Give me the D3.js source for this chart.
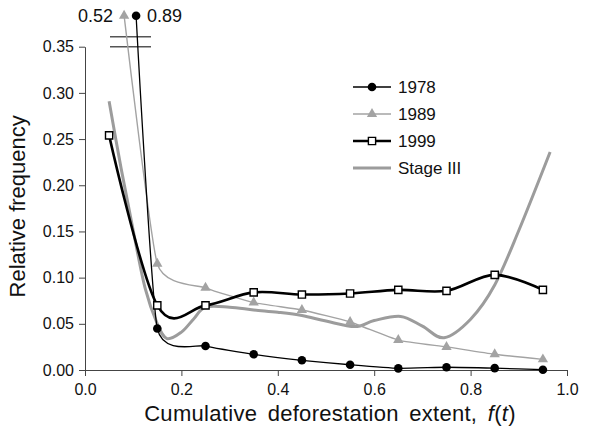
<!DOCTYPE html>
<html>
<head>
<meta charset="utf-8">
<script src="https://cdn.jsdelivr.net/npm/d3@7"></script>
<style>
  html, body { margin: 0; padding: 0; background: #fff; }
  svg text { font-family: "Liberation Sans", Arial, Helvetica, sans-serif; fill: #111; }
</style>
</head>
<body>
<svg id="chart" width="592" height="427"></svg>
<script>
// Bin centres of cumulative deforestation extent f(t)
const binCenters = [0.05, 0.15, 0.25, 0.35, 0.45, 0.55, 0.65, 0.75, 0.85, 0.95];

// Relative frequency per bin for each survey year
const freq1978 = [0.89, 0.045, 0.026, 0.017, 0.0105, 0.0057, 0.0018, 0.003, 0.002, 0.0003];
const freq1989 = [0.52, 0.115, 0.089, 0.073, 0.065, 0.052, 0.0324, 0.025, 0.017, 0.0115];
const freq1999 = [0.254, 0.070, 0.070, 0.084, 0.0817, 0.0828, 0.0867, 0.0857, 0.103, 0.0867];

// Stage III model curve
const stageX = [0.05, 0.075, 0.10, 0.125, 0.15, 0.17, 0.20, 0.225, 0.25, 0.30, 0.35, 0.40, 0.45, 0.50,
                0.56, 0.60, 0.655, 0.70, 0.745, 0.80, 0.85, 0.90, 0.965];
const stageY = [0.291, 0.218, 0.151, 0.088, 0.050, 0.034, 0.041, 0.055, 0.068, 0.068, 0.065, 0.0625, 0.059, 0.053,
                0.047, 0.0535, 0.058, 0.0475, 0.035, 0.055, 0.092, 0.151, 0.236];

// Axis ticks
const xTicks = [0, 0.2, 0.4, 0.6, 0.8, 1.0];
const yTicks = [0, 0.05, 0.10, 0.15, 0.20, 0.25, 0.30, 0.35];

const svg = d3.select("#chart");
const margin = { left: 85, right: 25, top: 46.7, bottom: 57 };
const W = 592, H = 427;
const x = d3.scaleLinear().domain([0, 1]).range([margin.left, W - margin.right]);
const y = d3.scaleLinear().domain([0, 0.35]).range([H - margin.bottom, margin.top]);
const yMax = 0.35;
const breakY = 15.7;              // row where off-scale values are drawn
const yPos = v => v > yMax ? breakY : y(v);
// off-scale markers are nudged right so they do not overlap
const offScaleNudge = { "1978": 27, "1989": 15 };

const darkGray = "#444";
const gray = "#a3a3a3";
const stageGray = "#9c9c9c";

// Axes
const yAxis = d3.axisLeft(y).tickValues(yTicks).tickFormat(d3.format(".2f"))
  .tickSize(6).tickSizeOuter(0).tickPadding(5);
const gy = svg.append("g").attr("transform", `translate(${margin.left},0)`).call(yAxis);
const xAxis = d3.axisBottom(x).tickValues(xTicks).tickFormat(d3.format(".1f"))
  .tickSize(6).tickSizeOuter(0).tickPadding(8);
const gx = svg.append("g").attr("transform", `translate(0,${y(0)})`).call(xAxis);
[gx, gy].forEach(g => {
  g.selectAll("path.domain").attr("stroke", darkGray).attr("stroke-width", 1);
  g.selectAll(".tick line").attr("stroke", darkGray).attr("stroke-width", 1);
  g.selectAll(".tick text").style("font-size", "16px").attr("fill", "#111")
    .style("font-family", "'Liberation Sans', Arial, sans-serif");
});

// Axis titles
svg.append("text")
  .attr("x", 330).attr("y", 421)
  .attr("text-anchor", "middle")
  .style("font-size", "22px")
  .style("letter-spacing", "0.3px")
  .style("word-spacing", "4px")
  .call(t => {
    t.append("tspan").text("Cumulative deforestation extent, ");
    t.append("tspan").style("font-style", "italic").text("f");
    t.append("tspan").text("(");
    t.append("tspan").style("font-style", "italic").text("t");
    t.append("tspan").text(")");
  });
svg.append("text")
  .attr("transform", `translate(25,${(y(0) + y(yMax)) / 2 - 2}) rotate(-90)`)
  .attr("text-anchor", "middle")
  .style("font-size", "22px")
  .text("Relative frequency");

// Broken axis marks
const breakLines = [breakY + 21, y(yMax)];
svg.append("g").selectAll("line").data(breakLines).join("line")
  .attr("x1", 110).attr("x2", 151)
  .attr("y1", d => d).attr("y2", d => d)
  .attr("stroke", "#555").attr("stroke-width", 1.6);

// Helper: pixel points of a series
function seriesPoints(xs, vs, name) {
  return xs.map((xv, i) => {
    const off = vs[i] > yMax ? (offScaleNudge[name] || 0) : 0;
    return [x(xv) + off, yPos(vs[i]), vs[i]];
  });
}
// smoothing: uniform Catmull-Rom, and a tighter cardinal spline for the
// series that start off-scale so the long first segment does not overshoot
const smooth = d3.line().x(d => d[0]).y(d => d[1]).curve(d3.curveCatmullRom.alpha(0));
const smoothTight = d3.line().x(d => d[0]).y(d => d[1]).curve(d3.curveCardinal.tension(0.5));

const p1978 = seriesPoints(binCenters, freq1978, "1978");
const p1989 = seriesPoints(binCenters, freq1989, "1989");
const p1999 = seriesPoints(binCenters, freq1999, "1999");
const pStage = seriesPoints(stageX, stageY, "Stage III");

// Lines
svg.append("path").attr("d", smooth(pStage)).attr("fill", "none")
  .attr("stroke", stageGray).attr("stroke-width", 3);
svg.append("path").attr("d", smoothTight(p1989)).attr("fill", "none")
  .attr("stroke", gray).attr("stroke-width", 1.4);
svg.append("path").attr("d", smoothTight(p1978)).attr("fill", "none")
  .attr("stroke", "#000").attr("stroke-width", 1.3);
svg.append("path").attr("d", smooth(p1999)).attr("fill", "none")
  .attr("stroke", "#000").attr("stroke-width", 2.6);

// Markers
const tri = d3.symbol().type(d3.symbolTriangle).size(46);
const sq = d3.symbol().type(d3.symbolSquare).size(52);
svg.append("g").selectAll("path").data(p1989).join("path")
  .attr("d", tri).attr("transform", d => `translate(${d[0]},${d[1]})`)
  .attr("fill", gray);
svg.append("g").selectAll("circle").data(p1978).join("circle")
  .attr("cx", d => d[0]).attr("cy", d => d[1]).attr("r", 4.3).attr("fill", "#000");
svg.append("g").selectAll("path").data(p1999).join("path")
  .attr("d", sq).attr("transform", d => `translate(${d[0]},${d[1]})`)
  .attr("fill", "#fff").attr("stroke", "#000").attr("stroke-width", 1.4);

// Values of off-scale points
const fmt = d3.format(".2f");
p1989.filter(d => d[2] > yMax).forEach(d => {
  svg.append("text").attr("x", d[0] - 11).attr("y", d[1] + 6.5)
    .attr("text-anchor", "end").style("font-size", "18px").text(fmt(d[2]));
});
p1978.filter(d => d[2] > yMax).forEach(d => {
  svg.append("text").attr("x", d[0] + 11).attr("y", d[1] + 6.5)
    .attr("text-anchor", "start").style("font-size", "18px").text(fmt(d[2]));
});

// Legend
const legendItems = [
  { label: "1978", color: "#000", width: 1.3, marker: "circle" },
  { label: "1989", color: gray, width: 1.4, marker: "triangle" },
  { label: "1999", color: "#000", width: 2.6, marker: "square" },
  { label: "Stage III", color: stageGray, width: 3, marker: null }
];
const lg = svg.append("g").attr("transform", "translate(353,87)");
legendItems.forEach((it, i) => {
  const g = lg.append("g").attr("transform", `translate(0,${i * 27})`);
  g.append("line").attr("x1", 0).attr("x2", 38).attr("y1", 0).attr("y2", 0)
    .attr("stroke", it.color).attr("stroke-width", it.width);
  if (it.marker === "circle") {
    g.append("circle").attr("cx", 19).attr("cy", 0).attr("r", 4.3).attr("fill", "#000");
  } else if (it.marker === "triangle") {
    g.append("path").attr("d", tri).attr("transform", "translate(19,0)").attr("fill", gray);
  } else if (it.marker === "square") {
    g.append("path").attr("d", sq).attr("transform", "translate(19,0)")
      .attr("fill", "#fff").attr("stroke", "#000").attr("stroke-width", 1.4);
  }
  g.append("text").attr("x", 45).attr("y", 6).style("font-size", "17px").text(it.label);
});
</script>
</body>
</html>
